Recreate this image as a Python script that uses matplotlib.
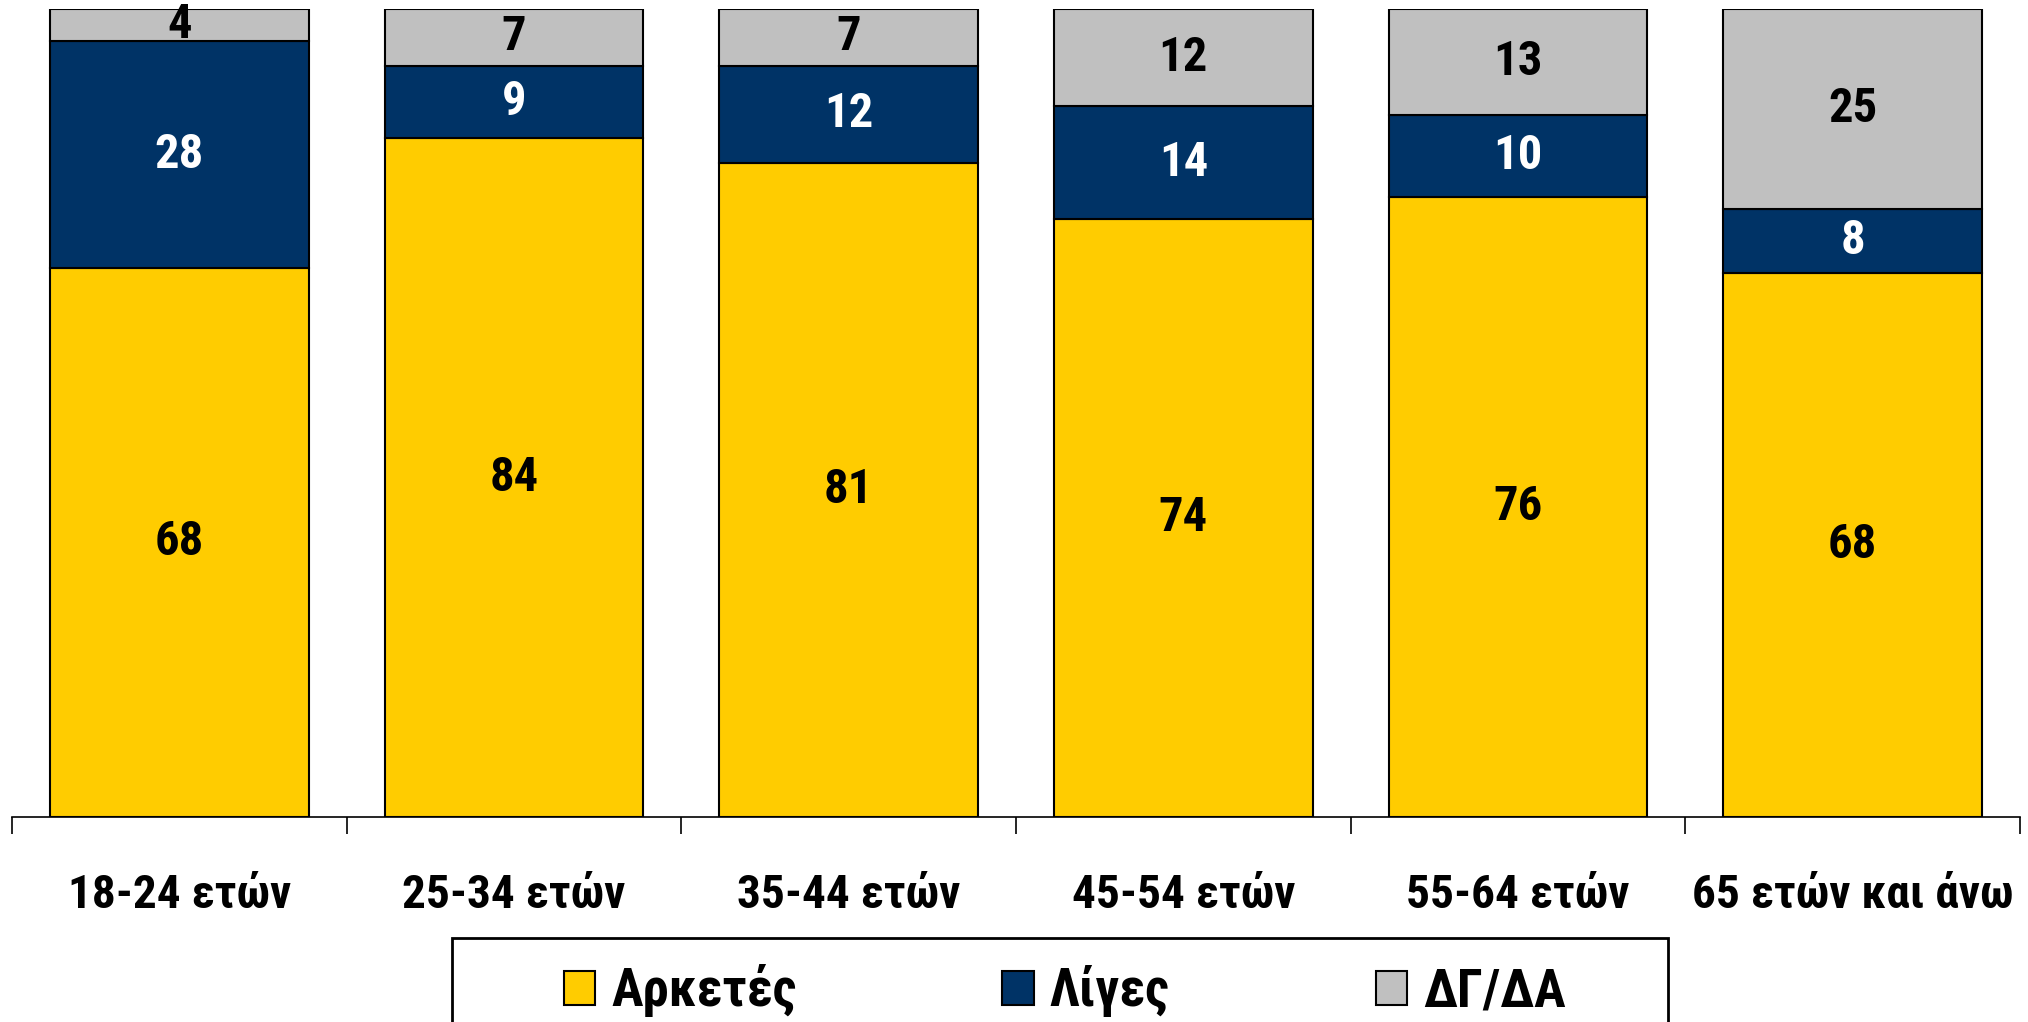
import matplotlib
matplotlib.use('Agg')
import matplotlib.pyplot as plt
from matplotlib.patches import Rectangle
import numpy as np

plt.rcParams['font.family'] = ['Roboto Condensed', 'Liberation Sans Narrow', 'DejaVu Sans']
plt.rcParams['font.weight'] = 'bold'

categories = ['18-24 ετών', '25-34 ετών', '35-44 ετών', '45-54 ετών', '55-64 ετών', '65 ετών και άνω']
arketes = [68, 84, 81, 74, 76, 68]
liges = [28, 9, 12, 14, 10, 8]
dg_da = [4, 7, 7, 12, 13, 25]

series = [
    ('Αρκετές', arketes, '#FFCC00', 'black'),
    ('Λίγες', liges, '#003366', 'white'),
    ('ΔΓ/ΔΑ', dg_da, '#C0C0C0', 'black'),
]

totals = np.array(arketes) + np.array(liges) + np.array(dg_da)

fig = plt.figure(figsize=(20.28, 10.22), dpi=100)
ax = fig.add_axes([0.0059, 0.2006, 0.9902, 0.7905])

x = np.arange(len(categories))
bottom = np.zeros(len(categories))
for label, vals, color, tcolor in series:
    share = np.array(vals) / totals * 100
    bars = ax.bar(x, share, 0.773, bottom=bottom, color=color, edgecolor='black',
                  linewidth=1.5, label=label)
    ax.bar_label(bars, labels=[str(v) for v in vals], label_type='center',
                 color=tcolor, fontsize=35, fontweight='bold')
    bottom += share

ax.set_xlim(-0.5, len(categories) - 0.5)
ax.set_ylim(0, 100)
for s in ['top', 'right', 'left']:
    ax.spines[s].set_visible(False)
ax.spines['bottom'].set_linewidth(1.2)
ax.set_yticks([])

ax.set_xticks(x)
ax.set_xticklabels(categories, fontsize=34, fontweight='bold')
ax.tick_params(axis='x', which='major', length=0, pad=40)
ax.set_xticks(np.arange(-0.5, len(categories), 1), minor=True)
ax.tick_params(axis='x', which='minor', length=12, width=1.2, direction='out')

# legend without its own frame; frame drawn as a wider box that runs off the bottom
leg = fig.legend(loc='upper center', bbox_to_anchor=(0.525, 0.0822), ncol=3,
                 fontsize=38, frameon=False, handlelength=0.6, handleheight=0.6,
                 handletextpad=0.3, columnspacing=3.9, borderpad=0.5,
                 borderaxespad=0)
for h in leg.legend_handles:
    h.set_edgecolor('black')
    h.set_linewidth(1.5)

fig.patches.append(Rectangle((452 / 2028, -0.05), (1668 - 452) / 2028, 0.05 + 1 - 938 / 1022,
                             transform=fig.transFigure, fill=False,
                             edgecolor='black', linewidth=2))

fig.savefig('out.png', dpi=100)
